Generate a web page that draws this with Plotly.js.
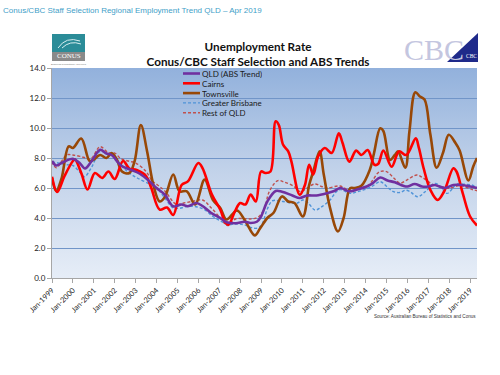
<!DOCTYPE html>
<html><head><meta charset="utf-8">
<script src="https://cdn.plot.ly/plotly-3.0.1.min.js"></script>
<style>html,body{margin:0;padding:0;background:#fff;}#chart{width:500px;height:375px;}</style>
</head><body><div id="chart"></div>
<script>
// ---- data (decimal years, unemployment rate %) ----
const seriesNames = ["QLD (ABS Trend)", "Cairns", "Townsville", "Greater Brisbane", "Rest of QLD"];
const yearTicks = [1999,2000,2001,2002,2003,2004,2005,2006,2007,2008,2009,2010,2011,2012,2013,2014,2015,2016,2017,2018,2019];
const tickLabels = yearTicks.map(y => "Jan-" + y);

const qldX = [1999.0,1999.2,1999.5,2000.0,2000.3,2000.58,2000.9,2001.3,2001.6,2001.85,2002.3,2002.8,2003.2,2003.7,2004.0,2004.4,2004.8,2005.2,2005.5,2005.9,2006.2,2006.6,2007.05,2007.35,2007.8,2008.2,2008.5,2008.8,2009.0,2009.3,2009.7,2010.0,2010.5,2010.85,2011.2,2011.65,2012.15,2012.5,2012.8,2013.2,2013.6,2014.05,2014.35,2014.7,2015.05,2015.4,2015.8,2016.0,2016.35,2016.7,2017.0,2017.3,2017.8,2018.2,2018.6,2019.0,2019.33];
const qldY = [7.8,7.5,7.7,7.95,7.7,7.3,7.8,8.55,8.3,8.2,7.5,7.2,6.95,6.4,6.0,5.55,4.78,4.9,4.78,5.0,4.8,4.35,4.0,3.72,3.65,3.75,3.67,3.75,4.1,5.1,5.8,5.75,5.5,5.33,5.5,5.5,5.65,5.8,6.0,5.78,5.9,6.1,6.33,6.7,6.5,6.38,6.15,6.1,6.27,6.1,6.1,6.2,6.0,6.2,6.2,6.1,6.0];

const cairnsX = [1999.0,1999.25,1999.6,2000.0,2000.1,2000.4,2000.7,2001.05,2001.4,2001.7,2002.0,2002.4,2002.7,2003.05,2003.5,2003.75,2004.15,2004.5,2004.8,2005.2,2005.5,2006.0,2006.2,2006.65,2007.05,2007.3,2007.45,2007.75,2008.0,2008.25,2008.5,2008.75,2009.0,2009.2,2009.45,2009.7,2009.85,2010.05,2010.3,2010.45,2010.85,2011.1,2011.3,2011.5,2011.73,2012.05,2012.38,2012.72,2012.9,2013.22,2013.55,2013.8,2014.1,2014.42,2014.6,2014.85,2015.25,2015.6,2015.95,2016.4,2016.55,2016.78,2017.1,2017.45,2017.75,2018.2,2018.35,2018.65,2019.0,2019.33];
const cairnsY = [6.75,5.73,6.8,7.8,7.9,7.0,5.9,7.0,6.67,7.1,6.6,7.8,7.3,7.2,6.8,6.0,4.56,4.7,4.2,6.2,6.44,7.67,7.33,5.56,4.56,3.67,3.56,4.44,5.0,4.9,5.56,5.1,7.1,7.0,7.1,10.45,10.2,8.9,8.44,7.78,5.55,6.2,7.55,6.9,8.1,8.67,8.33,9.65,9.0,7.76,8.49,8.2,8.53,7.55,7.6,8.49,7.42,8.44,8.2,9.31,8.67,7.3,5.87,5.2,5.75,7.31,7.1,5.64,4.1,3.5];

const townsX = [1999.0,1999.2,1999.45,1999.8,2000.0,2000.4,2000.8,2001.0,2001.3,2001.6,2001.85,2002.1,2002.35,2002.7,2002.95,2003.25,2003.55,2003.85,2004.15,2004.4,2004.8,2005.1,2005.45,2005.85,2006.3,2006.7,2007.05,2007.35,2007.85,2008.25,2008.7,2008.95,2009.3,2009.6,2010.0,2010.3,2010.6,2011.0,2011.3,2011.5,2011.8,2012.0,2012.3,2012.68,2012.95,2013.26,2013.5,2013.8,2014.2,2014.4,2014.7,2014.85,2015.17,2015.4,2015.55,2015.9,2016.1,2016.38,2016.6,2016.82,2017.1,2017.4,2017.7,2017.98,2018.3,2018.5,2018.92,2019.15,2019.33];
const townsY = [6.67,5.8,6.6,8.78,8.67,9.3,7.8,7.9,8.2,8.0,8.33,7.9,7.1,7.0,7.78,10.2,8.44,6.2,5.1,5.4,6.9,5.78,5.78,4.9,6.56,5.2,4.67,3.9,4.5,3.78,2.84,3.3,4.0,4.35,5.44,5.1,5.0,4.1,6.2,7.1,8.44,6.9,4.67,3.1,4.0,5.98,6.0,6.15,7.2,8.3,9.98,9.8,7.87,8.2,8.44,7.35,9.8,12.38,12.1,11.9,9.56,7.35,8.33,9.55,9.0,8.5,6.5,7.44,8.0];

const brisX = [1999.0,1999.35,1999.7,2000.0,2000.3,2000.55,2000.9,2001.3,2001.65,2002.0,2002.3,2002.7,2003.1,2003.7,2004.0,2004.4,2004.8,2005.1,2005.5,2005.9,2006.3,2006.7,2007.1,2007.4,2007.8,2008.2,2008.55,2008.85,2009.05,2009.3,2009.55,2010.05,2010.7,2011.0,2011.25,2011.58,2011.85,2012.3,2012.6,2012.8,2013.26,2013.6,2013.9,2014.3,2014.7,2015.05,2015.33,2015.65,2015.9,2016.1,2016.5,2016.85,2017.33,2017.6,2017.9,2018.37,2018.7,2019.08,2019.33];
const brisY = [7.75,7.65,7.55,7.5,7.1,6.75,7.4,8.45,8.25,8.1,7.5,7.0,6.65,6.25,6.0,5.33,4.67,4.65,4.78,4.75,4.55,4.1,3.78,3.56,3.6,3.55,3.35,3.33,3.6,4.6,5.15,5.1,4.98,5.2,5.0,4.53,4.7,5.2,5.75,5.9,5.64,5.75,5.87,6.1,6.42,6.05,5.76,5.7,5.85,5.78,5.42,5.75,6.31,6.05,5.64,6.27,6.25,6.2,6.04];

const restX = [1999.0,1999.2,1999.7,2000.0,2000.5,2000.85,2001.3,2001.7,2002.0,2002.3,2002.7,2003.0,2003.5,2003.8,2004.05,2004.4,2004.95,2005.3,2005.7,2006.2,2006.6,2007.05,2007.4,2007.8,2008.2,2008.6,2008.9,2009.15,2009.4,2009.8,2010.1,2010.55,2010.87,2011.2,2011.58,2011.9,2012.14,2012.78,2013.26,2013.6,2014.05,2014.3,2014.65,2015.0,2015.35,2015.65,2015.97,2016.45,2016.75,2017.25,2017.6,2017.96,2018.52,2018.8,2019.1,2019.33];
const restY = [7.75,7.35,8.2,8.2,8.05,7.95,8.75,8.35,8.33,7.95,7.78,7.67,7.1,6.45,6.2,5.8,4.9,5.0,5.1,5.2,4.7,4.0,3.5,3.95,3.95,3.95,4.1,4.6,5.78,6.49,6.4,6.13,5.76,6.0,6.27,6.1,6.0,6.13,5.8,5.95,6.1,6.44,7.07,7.09,6.67,6.33,6.53,6.87,6.67,6.2,6.1,5.98,6.16,6.05,5.9,5.82];

const sourceText = "Source: Australian Bureau of Statistics and Conus";
const headerText = "Conus/CBC Staff Selection Regional Employment Trend QLD \u2013 Apr 2019";
const titleText = "Unemployment Rate<br>Conus/CBC Staff Selection and ABS Trends";

// ---- styling ----
const colors = ["#7030a0", "#ff0000", "#984807", "#4f93d8", "#c0504d"];
const widths = [2.6, 2.6, 2.6, 1.4, 1.4];
const dashes = ["solid", "solid", "solid", "3px,2px", "3px,2px"];
const xs = [qldX, cairnsX, townsX, brisX, restX];
const ys = [qldY, cairnsY, townsY, brisY, restY];

// pixel -> paper helpers for decorations (plot area 52..477 x 68..278)
const L = 52, R = 477, T = 68, B = 278;
const px = x => (x - L) / (R - L);
const py = y => (B - y) / (B - T);

const order = [4, 3, 2, 1, 0];
const traces = order.map(i => ({
  type: "scatter", mode: "lines", name: seriesNames[i],
  x: xs[i], y: ys[i], showlegend: false,
  line: {color: colors[i], width: widths[i], dash: dashes[i], shape: "spline", smoothing: 1.0},
  hoverinfo: "skip"
}));

const gradSvg = '<svg xmlns="http://www.w3.org/2000/svg" width="100" height="100" preserveAspectRatio="none">' +
  '<defs><linearGradient id="g" x1="0" y1="0" x2="0" y2="1">' +
  '<stop offset="0" stop-color="#92b1dc"/><stop offset="0.5" stop-color="#c3d3ea"/><stop offset="1" stop-color="#e6edf7"/>' +
  '</linearGradient></defs><rect width="100" height="100" fill="url(#g)"/></svg>';

const shapes = [];
const annotations = [];
// compact legend
const legY = [73.5, 83.3, 93.1, 102.9, 112.7];
for (let i = 0; i < 5; i++) {
  shapes.push({type: "line", xref: "paper", yref: "paper", x0: px(183), x1: px(200), y0: py(legY[i]), y1: py(legY[i]),
    line: {color: colors[i], width: widths[i], dash: dashes[i]}});
  annotations.push({xref: "paper", yref: "paper", x: px(200.5), y: py(legY[i]), xanchor: "left", yanchor: "middle",
    text: seriesNames[i], showarrow: false, borderpad: 0, height: 9,
    font: {family: "Lato", size: 8.1, color: "#1a1a1a"}});
}
// header
annotations.push({xref: "paper", yref: "paper", x: px(1), y: py(10), xanchor: "left", yanchor: "middle",
  text: headerText, showarrow: false, font: {family: "Liberation Sans", size: 8.0, color: "#3fa0c8"}});
// source
annotations.push({xref: "paper", yref: "paper", x: px(478), y: py(316), xanchor: "right", yanchor: "middle",
  text: sourceText, showarrow: false, font: {family: "Liberation Sans", size: 4.6, color: "#333"}});
// CONUS logo
shapes.push({type: "rect", xref: "paper", yref: "paper", x0: px(52), x1: px(85), y0: py(52), y1: py(34), line: {width: 0}, fillcolor: "#2b8c98"});
shapes.push({type: "rect", xref: "paper", yref: "paper", x0: px(52), x1: px(85), y0: py(61), y1: py(52), line: {width: 0}, fillcolor: "#8a8a8a"});
shapes.push({type: "path", xref: "paper", yref: "paper", path: `M ${px(58)} ${py(48)} Q ${px(66)} ${py(36)} ${px(80)} ${py(41)}`, line: {color: "#d8eef0", width: 1}});
shapes.push({type: "path", xref: "paper", yref: "paper", path: `M ${px(62)} ${py(48)} Q ${px(70)} ${py(40)} ${px(81)} ${py(44)}`, line: {color: "#d8eef0", width: 1}});
annotations.push({xref: "paper", yref: "paper", x: px(68.5), y: py(56.5), xanchor: "center", yanchor: "middle",
  text: "CONUS", showarrow: false, borderpad: 0, font: {family: "Liberation Serif", size: 7, color: "#ffffff"}});
annotations.push({xref: "paper", yref: "paper", x: px(68.5), y: py(64), xanchor: "center", yanchor: "middle",
  text: "Business Consultancy Services", showarrow: false, borderpad: 0, font: {family: "Liberation Sans", size: 2.5, color: "#777"}});
// CBC logo
annotations.push({xref: "paper", yref: "paper", x: px(403), y: py(49), xanchor: "left", yanchor: "middle",
  text: "CBC", showarrow: false, borderpad: 0, font: {family: "Liberation Serif", size: 30, color: "#c4c6e0"}});
shapes.push({type: "path", xref: "paper", yref: "paper",
  path: `M ${px(447)} ${py(62)} L ${px(478)} ${py(62)} L ${px(478)} ${py(33)} Z`, line: {width: 0}, fillcolor: "#1f2a8a"});
annotations.push({xref: "paper", yref: "paper", x: px(471), y: py(55.5), xanchor: "center", yanchor: "middle",
  text: "CBC", showarrow: false, borderpad: 0, font: {family: "Liberation Serif", size: 5.5, color: "#ffffff"}});

const layout = {
  width: 500, height: 375,
  margin: {l: L, r: 500 - R, t: T, b: 375 - B, pad: 0},
  paper_bgcolor: "#ffffff", plot_bgcolor: "rgba(0,0,0,0)",
  title: {text: titleText, x: 0.516, xanchor: "center", y: 1 - 51 / 375, yanchor: "middle",
    font: {family: "Lato", size: 11.7, color: "#111", weight: 700}},
  images: [{source: "data:image/svg+xml;charset=utf-8," + encodeURIComponent(gradSvg),
    xref: "paper", yref: "paper", x: 0, y: 1, sizex: 1, sizey: 1, sizing: "stretch",
    xanchor: "left", yanchor: "top", layer: "below"}],
  xaxis: {
    range: [1999, 2019.33], tickvals: yearTicks, ticktext: tickLabels, tickangle: -45,
    showgrid: false, zeroline: false, showline: true, linecolor: "#a6a6a6", linewidth: 1,
    ticks: "outside", ticklen: 4, tickcolor: "#a6a6a6",
    tickfont: {family: "Lato", size: 7.5, color: "#222"}
  },
  yaxis: {
    range: [0, 14], dtick: 2, tick0: 0, tickformat: ".1f",
    showgrid: true, gridcolor: "#7195c8", gridwidth: 1, zeroline: false,
    showline: true, linecolor: "#a6a6a6", linewidth: 1,
    ticks: "outside", ticklen: 4, tickcolor: "#a6a6a6",
    tickfont: {family: "Lato", size: 8, color: "#222"}
  },
  shapes: shapes, annotations: annotations, showlegend: false
};
Plotly.newPlot("chart", traces, layout, {staticPlot: true, displayModeBar: false});
</script></body></html>
